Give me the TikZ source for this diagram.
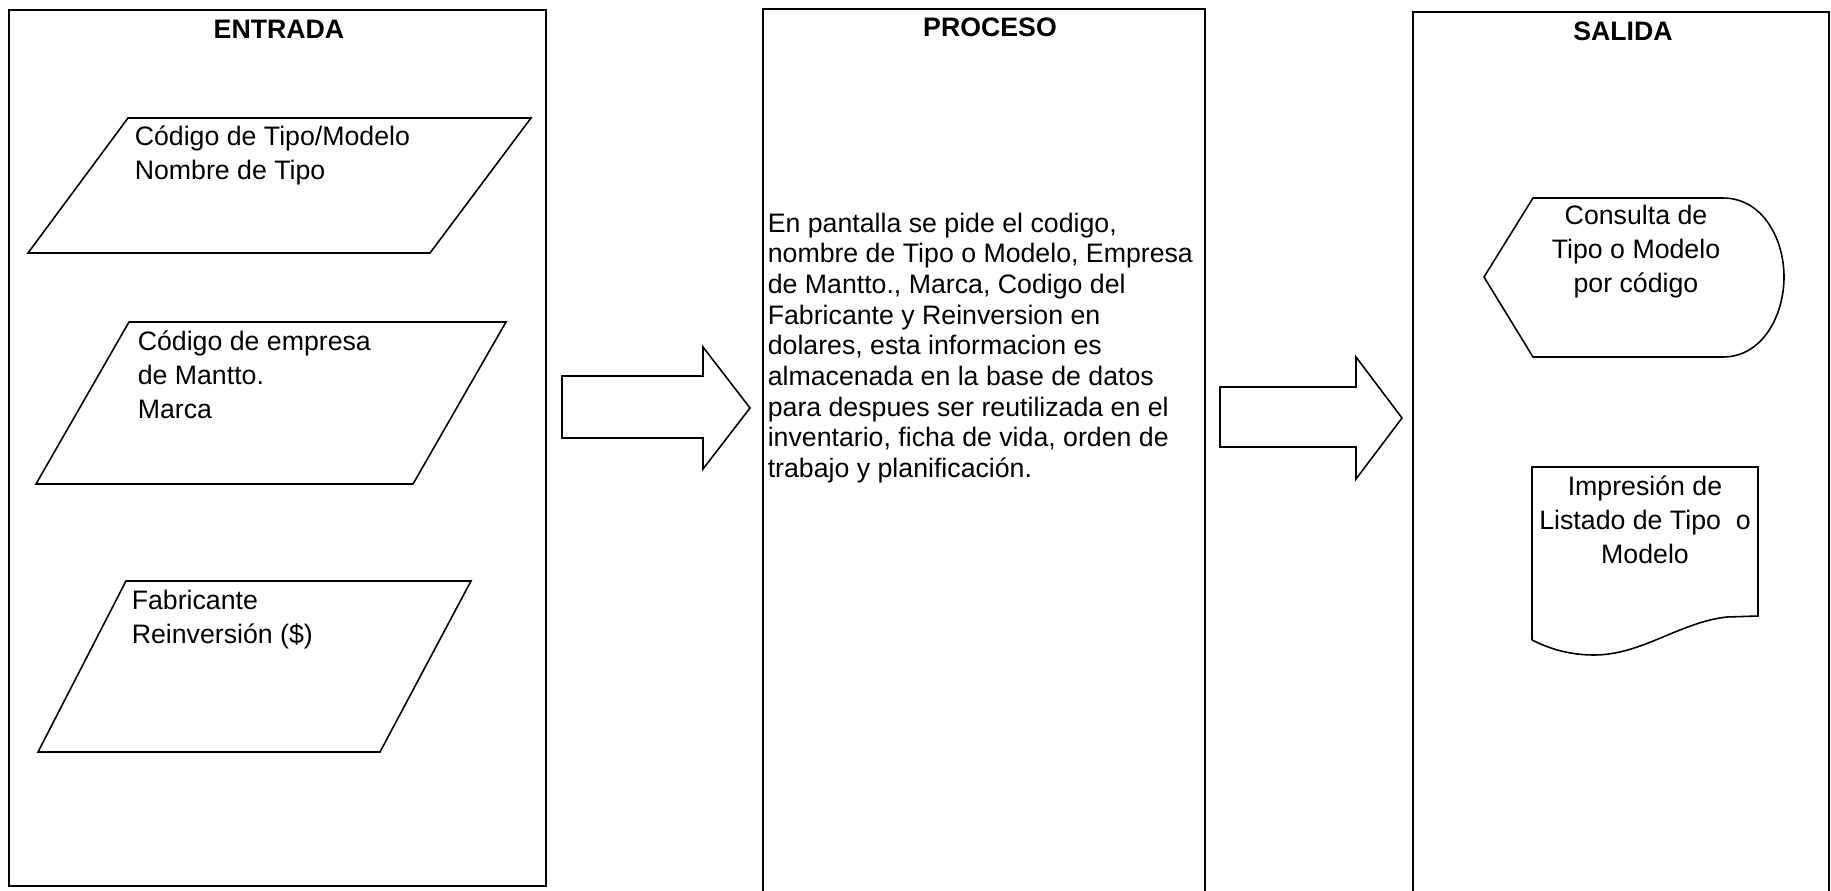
\documentclass[tikz,border=0pt]{standalone}
\usepackage{fontspec}
\setmainfont{Liberation Sans}

\begin{document}
\begin{tikzpicture}[x=0.1mm,y=-0.1mm,line width=0.45pt,
  txt/.style={inner sep=0pt,font=\fontsize{7.6}{9.7}\selectfont},
  ttl/.style={inner sep=0pt,font=\fontsize{7.6}{9.7}\selectfont\bfseries}]
  \useasboundingbox (0,0) rectangle (1831,891);
  \draw (9,10) rectangle (546,886);
  \draw (763,891) -- (763,9) -- (1205,9) -- (1205,891);
  \draw (1413,891) -- (1413,12) -- (1829,12) -- (1829,891);
  \node[ttl] (entrada) at (279,29) {ENTRADA};
  \node[ttl] (proceso) at (990,27) {PROCESO};
  \node[ttl] (salida) at (1623,31) {SALIDA};
  \draw (128,118) -- (531,118) -- (430,253) -- (28,253) -- cycle;
  \draw (129,322) -- (506,322) -- (413,484) -- (36,484) -- cycle;
  \draw (126,581) -- (471,581) -- (380,752) -- (38,752) -- cycle;
  \node[txt,align=left,anchor=west] (tipo) at (134,155) {Código de Tipo/Modelo\\Nombre de Tipo};
  \node[txt,align=left,anchor=west] (empresa) at (137,375) {Código de empresa\\de Mantto.\\Marca};
  \node[txt,align=left,anchor=west] (fabricante) at (131,620) {Fabricante\\Reinversión (\$)};
  \node[txt,font=\fontsize{7.6}{8.72}\selectfont,align=left,anchor=west] (pantalla) at (767,348)
    {En pantalla se pide el codigo,\\nombre de Tipo o Modelo, Empresa\\de Mantto., Marca, Codigo del\\Fabricante y Reinversion en\\dolares, esta informacion es\\almacenada en la base de datos\\para despues ser reutilizada en el\\inventario, ficha de vida, orden de\\trabajo y planificación.};
  \draw (562,376) -- (703,376) -- (703,347) -- (750,408) -- (703,469) -- (703,438) -- (562,438) -- cycle;
  \draw (1220,387) -- (1356,387) -- (1356,357) -- (1402,418) -- (1356,479) -- (1356,447) -- (1220,447) -- cycle;
  \draw (1484,277) -- (1533,198) -- (1723,198) .. controls (1762,198) and (1784,238) .. (1784,277)
    .. controls (1784,316) and (1762,357) .. (1723,357) -- (1533,357) -- cycle;
  \node[txt,align=center] (consulta) at (1636,252) {Consulta de\\Tipo o Modelo\\por código};
  \draw (1532,640) -- (1532,467) -- (1758,467) -- (1758,616) -- (1727,617)
    .. controls (1680,622) and (1642,655) .. (1594,655) .. controls (1568,655) and (1548,648) .. (1532,640);
  \node[txt,align=center] (listado) at (1645,520) {Impresión de\\Listado de Tipo\ \ o\\Modelo};
\end{tikzpicture}
\end{document}
